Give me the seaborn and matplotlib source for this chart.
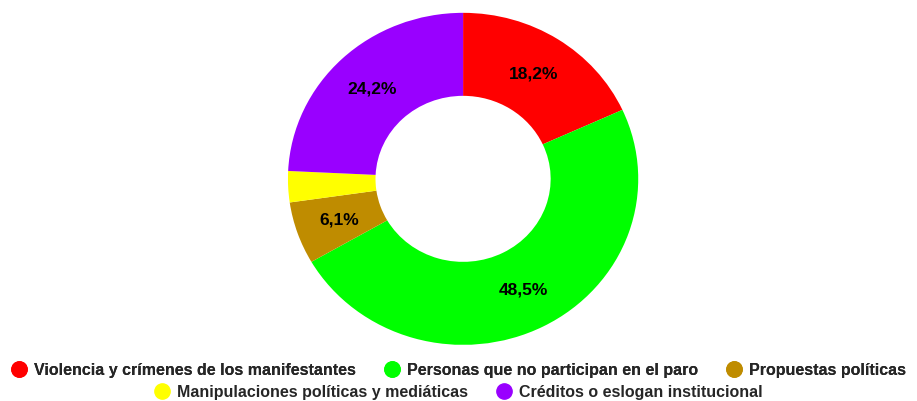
import matplotlib
matplotlib.use("Agg")
import matplotlib.pyplot as plt
import seaborn as sns
from matplotlib.lines import Line2D

sns.set_style("white")
plt.rcParams["font.family"] = ["Liberation Sans", "DejaVu Sans"]

# Data (counts giving the shown percentages)
categories = [
    "Violencia y crímenes de los manifestantes",
    "Personas que no participan en el paro",
    "Propuestas políticas",
    "Manipulaciones políticas y mediáticas",
    "Créditos o eslogan institucional",
]
counts = [6, 16, 2, 1, 8]
colors = sns.color_palette(["#FF0000", "#00FF00", "#BF8C00", "#FFFF00", "#9900FF"])


def fmt_pct(pct):
    # hide the tiny slice label, use comma as decimal separator
    if pct < 5:
        return ""
    return f"{pct:.1f}%".replace(".", ",")


fig = plt.figure(figsize=(9.17, 4.01), dpi=100)
# the original donut is slightly wider than tall
ax = fig.add_axes([0.314, 0.14, 0.382, 0.828])

wedges, texts, autotexts = ax.pie(
    counts,
    colors=colors,
    startangle=90,
    counterclock=False,
    autopct=fmt_pct,
    pctdistance=0.75,
    wedgeprops=dict(width=0.5, edgecolor="none"),
    textprops=dict(fontsize=12.5, fontweight="bold", color="black"),
)
ax.set_xlim(-1, 1)
ax.set_ylim(-1, 1)
ax.set_aspect("auto")

# legend in two centred rows
handles = [
    Line2D([0], [0], marker="o", linestyle="", markersize=11,
           markerfacecolor=c, markeredgecolor=c)
    for c in colors
]
leg_kw = dict(frameon=False, handletextpad=0.45, columnspacing=1.75,
              prop=dict(size=11.5, weight="bold"), handlelength=1.0)
leg1 = fig.legend(handles[:3], categories[:3], ncol=3, loc="center",
                  bbox_to_anchor=(0.5, 0.077), **leg_kw)
fig.add_artist(leg1)
fig.legend(handles[3:], categories[3:], ncol=2, loc="center",
           bbox_to_anchor=(0.5, 0.022), **leg_kw)

fig.savefig("out.png", dpi=100)
